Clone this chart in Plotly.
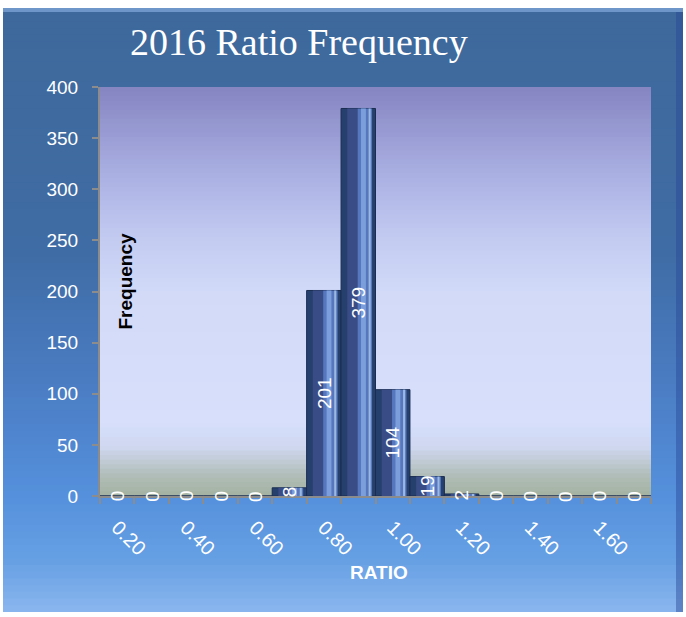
import plotly.graph_objects as go

# ---- data ----
ratio_bins = [0.20, 0.30, 0.40, 0.50, 0.60, 0.70, 0.80, 0.90, 1.00, 1.10, 1.20, 1.30, 1.40, 1.50, 1.60, 1.70]
frequency = [0, 0, 0, 0, 0, 8, 201, 379, 104, 19, 2, 0, 0, 0, 0, 0]
tick_values = [0.20, 0.40, 0.60, 0.80, 1.00, 1.20, 1.40, 1.60]
tick_labels = ["0.20", "0.40", "0.60", "0.80", "1.00", "1.20", "1.40", "1.60"]
title_text = "2016 Ratio Frequency"
x_title = "RATIO"
y_title = "Frequency"

W, H = 686, 617
L, R, T, B = 100, 35, 87, 121
plot_w = W - L - R
plot_h = H - T - B


def hex2rgb(h):
    h = h.lstrip("#")
    return tuple(int(h[i:i + 2], 16) for i in (0, 2, 4))


def interp(stops, f):
    for (f0, c0), (f1, c1) in zip(stops, stops[1:]):
        if f0 <= f <= f1:
            t = 0 if f1 == f0 else (f - f0) / (f1 - f0)
            a, b = hex2rgb(c0), hex2rgb(c1)
            return "rgb(%d,%d,%d)" % tuple(round(a[i] + (b[i] - a[i]) * t) for i in range(3))
    return stops[-1][1]


def px_to_paper_x(px):
    return (px - L) / plot_w


def px_to_paper_y(py):
    return (H - B - py) / plot_h


shapes = []
# outer panel gradient (pixel y stops); strips drawn bottom-up, each reaching the top
panel_stops = [(8, "#3e699c"), (250, "#3f6ca4"), (380, "#4a7cc2"), (496, "#5590dc"),
               (560, "#66a0e4"), (612, "#8ab6ee")]
n = 90
top_px, bot_px = 8, 612
for i in range(n):
    y_bot = bot_px - (bot_px - top_px) * i / n
    y_mid = bot_px - (bot_px - top_px) * (i + 0.5) / n
    shapes.append(dict(type="rect", xref="paper", yref="paper", layer="below",
                       x0=px_to_paper_x(3), x1=px_to_paper_x(683),
                       y0=px_to_paper_y(y_bot), y1=px_to_paper_y(top_px),
                       fillcolor=interp(panel_stops, y_mid), line=dict(width=0)))
# light top edge
shapes.append(dict(type="rect", xref="paper", yref="paper", layer="below",
                   x0=px_to_paper_x(3), x1=px_to_paper_x(683),
                   y0=px_to_paper_y(12), y1=px_to_paper_y(8),
                   fillcolor="#6f96c8", line=dict(width=0)))
# darker right edge
shapes.append(dict(type="rect", xref="paper", yref="paper", layer="below",
                   x0=px_to_paper_x(676), x1=px_to_paper_x(683),
                   y0=px_to_paper_y(612), y1=px_to_paper_y(12),
                   fillcolor="rgba(40,70,150,0.45)", line=dict(width=0)))

# plot-area gradient (fraction from bottom)
plot_stops = [(0.0, "#a2b2a0"), (0.05, "#b0bdb8"), (0.12, "#cfd8f0"), (0.18, "#d7dffb"),
              (0.5, "#d2daf8"), (0.65, "#c0c8f0"), (0.8, "#a8ade0"), (1.0, "#8585c2")]
m = 90
for i in range(m):
    f0 = i / m
    shapes.append(dict(type="rect", xref="paper", yref="paper", layer="below",
                       x0=0, x1=1, y0=f0, y1=1,
                       fillcolor=interp(plot_stops, (i + 0.5) / m), line=dict(width=0)))

fig = go.Figure()
bw = 0.1
# cylinder-like shading from overlaid bars
fig.add_trace(go.Bar(x=ratio_bins, y=frequency, width=bw, offset=-bw / 2,
                     marker=dict(color="#26406e", line=dict(color="#1a2c50", width=1)),
                     hoverinfo="skip"))
fig.add_trace(go.Bar(x=ratio_bins, y=frequency, width=bw * 0.3, offset=-bw * 0.32,
                     marker=dict(color="#3a4c86", line=dict(width=0)), hoverinfo="skip"))
fig.add_trace(go.Bar(x=ratio_bins, y=frequency, width=bw * 0.42, offset=-bw * 0.02,
                     marker=dict(color="#5677be", line=dict(width=0)), hoverinfo="skip"))
fig.add_trace(go.Bar(x=ratio_bins, y=frequency, width=bw * 0.14, offset=bw * 0.08,
                     marker=dict(color="#7c9fdc", line=dict(width=0)), hoverinfo="skip"))
fig.add_trace(go.Bar(x=ratio_bins, y=frequency, width=bw * 0.06, offset=bw * 0.3,
                     marker=dict(color="#9ab8e0", line=dict(width=0)), hoverinfo="skip"))

annotations = []
for xv, yv in zip(ratio_bins, frequency):
    annotations.append(dict(x=xv, y=yv / 2, xref="x", yref="y", text=str(yv),
                            textangle=-90, showarrow=False,
                            font=dict(family="Liberation Sans", size=19, color="white")))

annotations.append(dict(x=px_to_paper_x(128), y=px_to_paper_y(42), xref="paper", yref="paper",
                        xanchor="left", yanchor="middle", text=title_text, showarrow=False,
                        font=dict(family="Liberation Serif", size=38, color="white")))
annotations.append(dict(x=px_to_paper_x(112), y=px_to_paper_y(281), xref="paper", yref="paper",
                        text="<b>%s</b>" % y_title, textangle=-90, showarrow=False,
                        font=dict(family="Liberation Sans", size=19, color="black")))
annotations.append(dict(x=px_to_paper_x(379), y=px_to_paper_y(585), xref="paper", yref="paper",
                        text="<b>%s</b>" % x_title, showarrow=False,
                        font=dict(family="Liberation Sans", size=19, color="white")))

fig.update_layout(
    width=W, height=H,
    margin=dict(l=L, r=R, t=T, b=B, autoexpand=False),
    paper_bgcolor="white",
    plot_bgcolor="rgba(0,0,0,0)",
    barmode="overlay",
    showlegend=False,
    shapes=shapes,
    annotations=annotations,
    xaxis=dict(range=[0.15, 1.75], tickmode="array", tickvals=tick_values, ticktext=tick_labels,
               tickangle=45, ticks="", showgrid=False, zeroline=False,
               showline=True, linecolor="#8c8c8c", linewidth=2,
               tickfont=dict(family="Liberation Sans", size=20, color="white"),
               ticklabelstandoff=10,
               minor=dict(ticks="outside", tickmode="linear", tick0=0.15, dtick=0.1,
                          ticklen=6, tickcolor="#8c8c8c", tickwidth=2, showgrid=False)),
    yaxis=dict(range=[0, 400], dtick=50, ticks="outside", ticklen=6, tickcolor="#8c8c8c",
               tickwidth=2, showgrid=False, zeroline=False,
               showline=True, linecolor="#8c8c8c", linewidth=2,
               tickfont=dict(family="Liberation Sans", size=19, color="white"),
               ticklabelstandoff=10),
)

fig.write_html("out.html", config={"displayModeBar": False},
               post_script="document.body.style.margin='0px';document.body.style.overflow='hidden';")
